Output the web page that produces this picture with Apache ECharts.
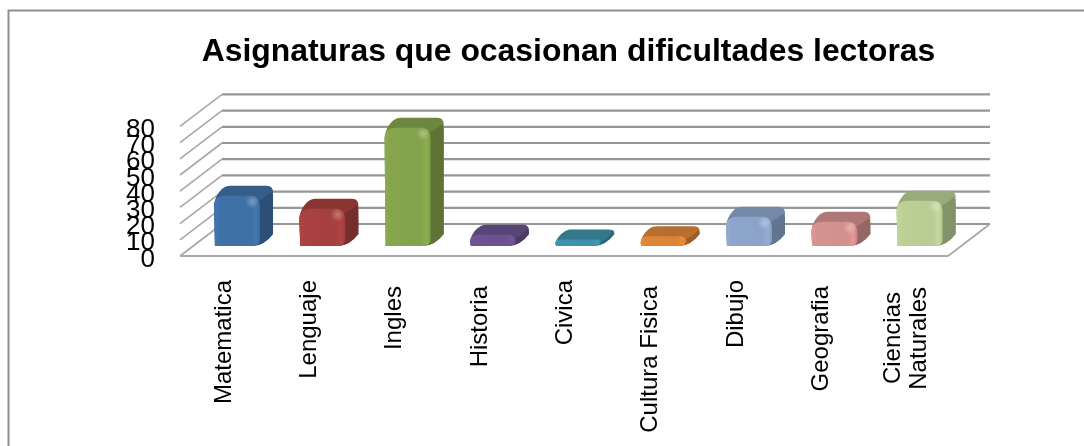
<!DOCTYPE html>
<html>
<head>
<meta charset="utf-8">
<style>
  html, body { margin: 0; padding: 0; background: #fff; }
  #main { width: 1084px; height: 446px; }
</style>
</head>
<body>
<div id="main"></div>
<script src="https://cdn.jsdelivr.net/npm/echarts@6/dist/echarts.min.js"></script>
<script>
var titleText = 'Asignaturas que ocasionan dificultades lectoras'
var categories = ['Matematica', 'Lenguaje', 'Ingles', 'Historia', 'Civica', 'Cultura Fisica', 'Dibujo', 'Geografia', 'Ciencias\nNaturales']
var values = [31, 23, 73, 7, 4, 6, 18, 15, 28]
var yTicks = [0, 10, 20, 30, 40, 50, 60, 70, 80]
var barColors = ['#3f71a8', '#a8413f', '#86a54c', '#6d5390', '#3e93aa', '#e08638', '#8ea6cd', '#d69291', '#bcd096']
// labels that sit a little lower in the picture
var loweredLabels = ['Ingles', 'Historia', 'Cultura Fisica', 'Geografia']

var FONT = '"Liberation Sans", Arial, sans-serif'
var WALL_DX = 42 // depth of the floor, pixels
var WALL_DY = 32
var BAR_SHIFT = 14.3 // bars stand a bit behind the front edge
var BAR_LIFT = 10
var BAR_DX = 13
var BAR_DY = 10

// multiply a hex colour, f < 1 is darker
function shade(hex, f) {
  var n = parseInt(hex.slice(1), 16)
  var r = Math.min(255, Math.round((n >> 16) * f))
  var g = Math.min(255, Math.round(((n >> 8) & 255) * f))
  var b = Math.min(255, Math.round((n & 255) * f))
  return 'rgb(' + r + ',' + g + ',' + b + ')'
}

function renderWall(params, api) {
  var grid = params.coordSys
  var left = grid.x
  var right = grid.x + grid.width
  var y = api.coord([0, api.value(0)])[1]
  var children = [
    { type: 'line', shape: { x1: left, y1: y, x2: left + WALL_DX, y2: y - WALL_DY }, style: { stroke: '#a8a8a8', lineWidth: 1.6 } },
    { type: 'line', shape: { x1: left + WALL_DX, y1: y - WALL_DY, x2: right + WALL_DX, y2: y - WALL_DY }, style: { stroke: '#969696', lineWidth: 2.2 } },
    // the axis drops labels that overlap, and these all overlap, so they are drawn here
    {
      type: 'text',
      style: {
        text: String(api.value(0)),
        x: left - 25,
        y: y + 3.5,
        align: 'right',
        verticalAlign: 'middle',
        fontFamily: FONT,
        fontSize: 26,
        fill: '#000'
      }
    }
  ]
  // floor
  if (api.value(0) === 0) {
    children.push({ type: 'line', shape: { x1: left, y1: y, x2: right, y2: y }, style: { stroke: '#a8a8a8', lineWidth: 2 } })
    children.push({ type: 'line', shape: { x1: right, y1: y, x2: right + WALL_DX, y2: y - WALL_DY }, style: { stroke: '#a8a8a8', lineWidth: 1.6 } })
  }
  return { type: 'group', silent: true, children: children }
}

function renderBar(params, api) {
  var top = api.coord([api.value(0), api.value(1)])
  var zero = api.coord([api.value(0), 0])
  var w = api.size([1, 0])[0] * 0.54
  var x0 = top[0] + BAR_SHIFT - w / 2
  var x1 = x0 + w
  var yb = zero[1] - BAR_LIFT
  var yt = top[1] - BAR_LIFT
  var h = yb - yt
  var r = Math.min(11, h * 0.7)
  var color = barColors[params.dataIndex]
  var bx = x0 + BAR_DX
  var bt = yt - BAR_DY

  // whole outline, top face colour
  var outline = 'M' + (x0 + 1) + ' ' + yb +
    'L' + x0 + ' ' + (yt + r) +
    'C' + x0 + ' ' + (yt + r * 0.2) + ' ' + (bx - 6) + ' ' + bt + ' ' + (bx + 3) + ' ' + bt +
    'L' + (x1 + BAR_DX - 6) + ' ' + bt +
    'Q' + (x1 + BAR_DX) + ' ' + bt + ' ' + (x1 + BAR_DX) + ' ' + (bt + Math.min(7, h * 0.5)) +
    'L' + (x1 + BAR_DX) + ' ' + (yb - BAR_DY - 2) +
    'Q' + (x1 + 4) + ' ' + yb + ' ' + (x1 - 8) + ' ' + yb + 'Z'
  // right side, under the top edge
  var side = 'M' + (x1 - 2) + ' ' + (yt + r * 0.5) +
    'Q' + (x1 + 5) + ' ' + (yt + r * 0.2) + ' ' + (x1 + BAR_DX - 2) + ' ' + (bt + r * 0.6) +
    'Q' + (x1 + BAR_DX) + ' ' + (bt + r * 0.7) + ' ' + (x1 + BAR_DX) + ' ' + (bt + r * 1.3) +
    'L' + (x1 + BAR_DX) + ' ' + (yb - BAR_DY - 2) +
    'Q' + (x1 + 4) + ' ' + yb + ' ' + (x1 - 8) + ' ' + yb + 'Z'
  var front = 'M' + (x0 + 1) + ' ' + yb +
    'L' + x0 + ' ' + (yt + r) +
    'Q' + x0 + ' ' + yt + ' ' + (x0 + r) + ' ' + yt +
    'L' + (x1 - r) + ' ' + yt +
    'Q' + x1 + ' ' + yt + ' ' + x1 + ' ' + (yt + r) +
    'L' + x1 + ' ' + (yb - 5) +
    'Q' + (x1 - 1) + ' ' + yb + ' ' + (x1 - 8) + ' ' + yb + 'Z'

  var children = [
    { type: 'path', shape: { pathData: outline }, style: { fill: shade(color, 0.82) } },
    { type: 'path', shape: { pathData: side }, style: { fill: shade(color, 0.7) } },
    {
      type: 'path',
      shape: { pathData: front },
      style: {
        fill: new echarts.graphic.LinearGradient(0, 0, 1, 0, [
          { offset: 0, color: shade(color, 1.04) },
          { offset: 0.12, color: color },
          { offset: 0.78, color: shade(color, 0.98) },
          { offset: 0.92, color: shade(color, 1.05) },
          { offset: 1, color: shade(color, 0.92) }
        ])
      }
    }
  ]
  if (h > 18) {
    children.push({
      type: 'circle',
      shape: { cx: x1 - 8, cy: yt + 6, r: 7 },
      style: {
        fill: new echarts.graphic.RadialGradient(0.5, 0.5, 0.5, [
          { offset: 0, color: 'rgba(255,255,255,0.3)' },
          { offset: 1, color: 'rgba(255,255,255,0)' }
        ])
      }
    })
  }
  return { type: 'group', silent: true, children: children }
}

var myChart = echarts.init(document.getElementById('main'), null, { renderer: 'canvas' })
myChart.setOption({
  animation: false,
  backgroundColor: '#fff',
  title: {
    text: titleText,
    left: 563.5,
    top: 31,
    textAlign: 'center',
    textStyle: { fontFamily: FONT, fontSize: 31.9, fontWeight: 'bold', color: '#000' }
  },
  graphic: [
    {
      type: 'rect',
      silent: true,
      shape: { x: 8.5, y: 10.5, width: 1200, height: 600 },
      style: { fill: null, stroke: '#8f8f8f', lineWidth: 2 }
    }
  ],
  grid: { left: 180, top: 126.4, width: 768, height: 129.6, outerBoundsMode: 'none' },
  xAxis: {
    type: 'category',
    data: categories,
    axisLine: { show: false },
    axisTick: { show: false },
    axisLabel: {
      interval: 0,
      rotate: 90,
      margin: 24,
      fontFamily: FONT,
      fontSize: 24,
      color: '#000',
      lineHeight: 27,
      padding: [3, 0, 0, 0],
      formatter: function (name) {
        if (name.indexOf('\n') >= 0) {
          var parts = name.split('\n')
          return '{c|' + parts[0] + '}\n{n|' + parts[1] + '}'
        }
        return loweredLabels.indexOf(name) >= 0 ? '{low|' + name + '}' : name
      },
      rich: {
        low: { padding: [0, 6, 0, 0], fontFamily: FONT, fontSize: 24, color: '#000' },
        c: { padding: [0, 12, 0, 0], fontFamily: FONT, fontSize: 24, color: '#000', lineHeight: 26 },
        n: { padding: [0, 7, 0, 0], fontFamily: FONT, fontSize: 24, color: '#000', lineHeight: 26 }
      }
    }
  },
  yAxis: {
    type: 'value',
    min: 0,
    max: 80,
    interval: 10,
    axisLine: { show: false },
    axisTick: { show: false },
    splitLine: { show: false },
    axisLabel: { show: false }
  },
  series: [
    {
      type: 'custom',
      z: 1,
      clip: false,
      renderItem: renderWall,
      encode: { y: 0 },
      data: yTicks.map(function (t) { return [t] })
    },
    {
      type: 'custom',
      z: 2,
      clip: false,
      renderItem: renderBar,
      encode: { x: 0, y: 1 },
      data: values.map(function (v, i) { return [i, v] })
    }
  ]
})
</script>
</body>
</html>
